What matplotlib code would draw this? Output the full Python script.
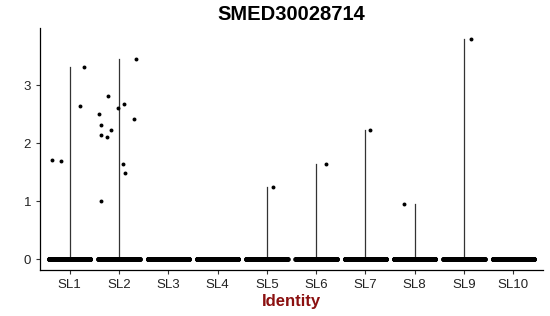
import numpy as np
import matplotlib
matplotlib.use('Agg')
import matplotlib.pyplot as plt

plt.rcParams['font.family'] = ['Liberation Sans', 'DejaVu Sans']

clusters = ['SL1', 'SL2', 'SL3', 'SL4', 'SL5', 'SL6', 'SL7', 'SL8', 'SL9', 'SL10']

# non-zero expression values per cluster, with their horizontal jitter
expr_vals = {
    'SL1': [1.71, 1.70, 2.64, 3.31],
    'SL2': [2.51, 2.31, 2.14, 1.00, 2.81, 2.10, 2.23, 2.60, 2.68, 1.65, 1.48, 2.42, 3.46],
    'SL5': [1.24],
    'SL6': [1.65],
    'SL7': [2.23],
    'SL8': [0.95],
    'SL9': [3.79],
}
jitter = {
    'SL1': [-0.36, -0.18, 0.20, 0.28],
    'SL2': [-0.40, -0.36, -0.37, -0.37, -0.22, -0.24, -0.17, -0.03, 0.11, 0.09, 0.13, 0.31, 0.35],
    'SL5': [0.13],
    'SL6': [0.19],
    'SL7': [0.10],
    'SL8': [-0.21],
    'SL9': [0.14],
}
# number of cells with zero expression in each cluster
zero_counts = [300, 300, 300, 300, 300, 300, 300, 300, 300, 300]

fig, ax = plt.subplots(figsize=(5.5, 3.16), dpi=100)
fig.subplots_adjust(left=0.073, right=0.987, top=0.91, bottom=0.145)

for i, name in enumerate(clusters):
    xc = i + 1
    vals = expr_vals.get(name, [])
    # violin collapses to a thin line (almost all cells are zero)
    if vals:
        ax.plot([xc, xc], [0, max(vals)], color='#333333', lw=0.9, zorder=1)
    zx = xc + np.linspace(-0.42, 0.42, zero_counts[i])
    ax.scatter(zx, np.zeros(zero_counts[i]), s=11, color='black', lw=0, zorder=2)
    if vals:
        ax.scatter(xc + np.array(jitter[name]), vals, s=8, color='black', lw=0, zorder=3)

ax.set_xlim(0.4, 10.6)
ax.set_ylim(-0.19, 3.98)
ax.set_xticks(range(1, len(clusters) + 1))
ax.set_xticklabels(clusters)
ax.set_yticks([0, 1, 2, 3])
ax.tick_params(labelsize=9.5, length=3, color='#333333', labelcolor='#222222')
for s in ['top', 'right']:
    ax.spines[s].set_visible(False)
ax.spines['left'].set_linewidth(0.9)
ax.spines['bottom'].set_linewidth(0.9)

ax.set_title('SMED30028714', fontsize=14.5, fontweight='bold', pad=6)
ax.set_xlabel('Identity', fontsize=12, fontweight='bold', color='#8B1010', labelpad=2)

plt.savefig('out.png', dpi=100)
